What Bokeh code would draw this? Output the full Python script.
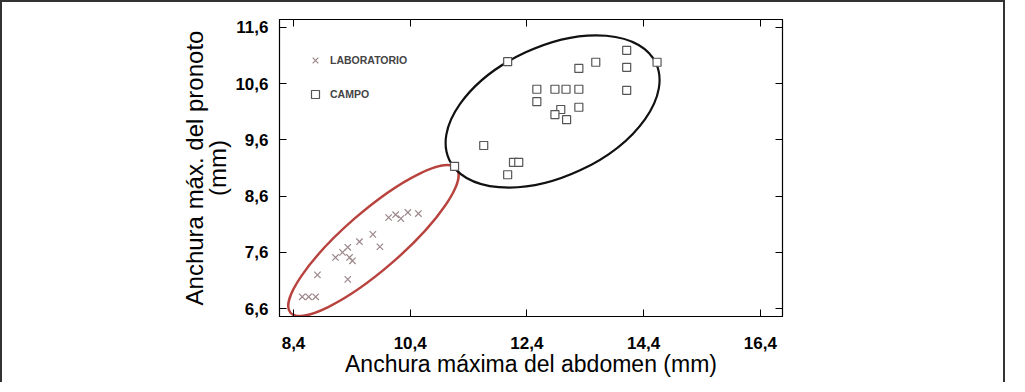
from bokeh.plotting import figure
from bokeh.models import (Range1d, FixedTicker, CustomJSTickFormatter, LinearAxis,
                          Legend, LegendItem, ColumnDataSource)
from bokeh.embed import file_html
from bokeh.resources import INLINE

# ---- data ----
lab_x = [8.55, 8.66, 8.78, 8.81, 9.33, 9.12, 9.24, 9.33, 9.53, 9.36, 9.41,
         9.76, 9.88, 10.03, 10.15, 10.24, 10.36, 10.54]
lab_y = [6.81, 6.81, 6.81, 7.20, 7.12, 7.51, 7.60, 7.69, 7.79, 7.51, 7.45,
         7.92, 7.70, 8.22, 8.27, 8.20, 8.31, 8.29]

campo_x = [12.07, 14.11, 13.58, 13.29, 14.11, 14.63, 12.57, 12.88, 13.07, 13.29,
           14.11, 12.57, 12.98, 13.29, 12.88, 13.08, 11.66, 12.17, 12.26, 12.07, 11.16]
campo_y = [10.99, 11.19, 10.98, 10.87, 10.89, 10.98, 10.50, 10.50, 10.50, 10.50,
           10.48, 10.28, 10.14, 10.18, 10.05, 9.96, 9.50, 9.20, 9.20, 8.98, 9.13]

# confidence ellipses: centre x, centre y, width, height, angle (deg)
lab_ellipse = dict(x=9.77, y=7.81, w=3.77, h=1.03, angle=41)
campo_ellipse = dict(x=12.84, y=10.105, w=3.91, h=2.31, angle=25)

x_ticks = [8.4, 10.4, 12.4, 14.4, 16.4]
y_ticks = [6.6, 7.6, 8.6, 9.6, 10.6, 11.6]
series_labels = ["LABORATORIO", "CAMPO"]
x_title = "Anchura máxima del abdomen (mm)"
y_title = "Anchura máx. del pronoto\n(mm)"

FONT = "Liberation Sans"

p = figure(width=1005, height=382, output_backend="svg", toolbar_location=None,
           x_range=Range1d(8.16, 16.78), y_range=Range1d(6.46, 11.74),
           min_border_left=277, min_border_right=225, min_border_top=17,
           min_border_bottom=68)
p.styles = {"border-top": "2px solid #333", "border-left": "2px solid #333",
            "border-right": "2px solid #333", "margin-bottom": "-8px"}
p.grid.visible = False
p.outline_line_color = "black"
p.outline_line_width = 1.2

fmt = CustomJSTickFormatter(code="return tick.toFixed(1).replace('.', ',');")
blank = CustomJSTickFormatter(code="return '';")

for ax in p.xaxis + p.yaxis:
    ax.major_tick_in = 7
    ax.major_tick_out = 0
    ax.minor_tick_line_color = None
    ax.major_label_text_font = FONT
    ax.major_label_text_font_style = "bold"
    ax.major_label_text_font_size = "17px"
    ax.major_label_text_color = "black"
    ax.axis_label_text_font = FONT
    ax.axis_label_text_font_style = "normal"
    ax.axis_label_text_color = "black"
    ax.formatter = fmt

p.xaxis.ticker = FixedTicker(ticks=x_ticks)
p.yaxis.ticker = FixedTicker(ticks=y_ticks)
p.xaxis.axis_label = x_title
p.yaxis.axis_label = y_title
p.xaxis.axis_label_text_font_size = "23px"
p.yaxis.axis_label_text_font_size = "24px"
p.yaxis.axis_label_text_line_height = 0.88
p.xaxis.major_label_standoff = 20
p.yaxis.major_label_standoff = 11
p.xaxis.axis_label_standoff = -1
p.yaxis.axis_label_standoff = 1

top = LinearAxis(ticker=FixedTicker(ticks=x_ticks), formatter=blank, major_tick_in=7,
                 major_tick_out=0, minor_tick_line_color=None)
right = LinearAxis(ticker=FixedTicker(ticks=y_ticks), formatter=blank, major_tick_in=7,
                   major_tick_out=0, minor_tick_line_color=None)
p.add_layout(top, "above")
p.add_layout(right, "right")

# ellipses
p.ellipse(x=lab_ellipse["x"], y=lab_ellipse["y"], width=lab_ellipse["w"],
          height=lab_ellipse["h"], angle=lab_ellipse["angle"], angle_units="deg",
          fill_color=None, line_color="#b8433e", line_width=2.4)
p.ellipse(x=campo_ellipse["x"], y=campo_ellipse["y"], width=campo_ellipse["w"],
          height=campo_ellipse["h"], angle=campo_ellipse["angle"], angle_units="deg",
          fill_color=None, line_color="#111111", line_width=2.2)

src_lab = ColumnDataSource(dict(x=lab_x, y=lab_y))
src_campo = ColumnDataSource(dict(x=campo_x, y=campo_y))
r_lab = p.scatter("x", "y", source=src_lab, marker="x", size=9,
                  line_color="#9a8688", line_width=1.2)
r_campo = p.scatter("x", "y", source=src_campo, marker="square", size=8,
                    line_color="#555555", fill_color="white", line_width=1.2)

legend = Legend(items=[LegendItem(label=series_labels[0], renderers=[r_lab]),
                       LegendItem(label=series_labels[1], renderers=[r_campo])],
                location=(26, 212), padding=0, margin=0, spacing=14,
                glyph_width=20, glyph_height=20, label_height=20, label_standoff=5,
                label_text_font=FONT, label_text_font_style="bold",
                label_text_font_size="10.5px", background_fill_alpha=0,
                border_line_color=None)
p.add_layout(legend)

open("out.html", "w").write(file_html(p, INLINE))
